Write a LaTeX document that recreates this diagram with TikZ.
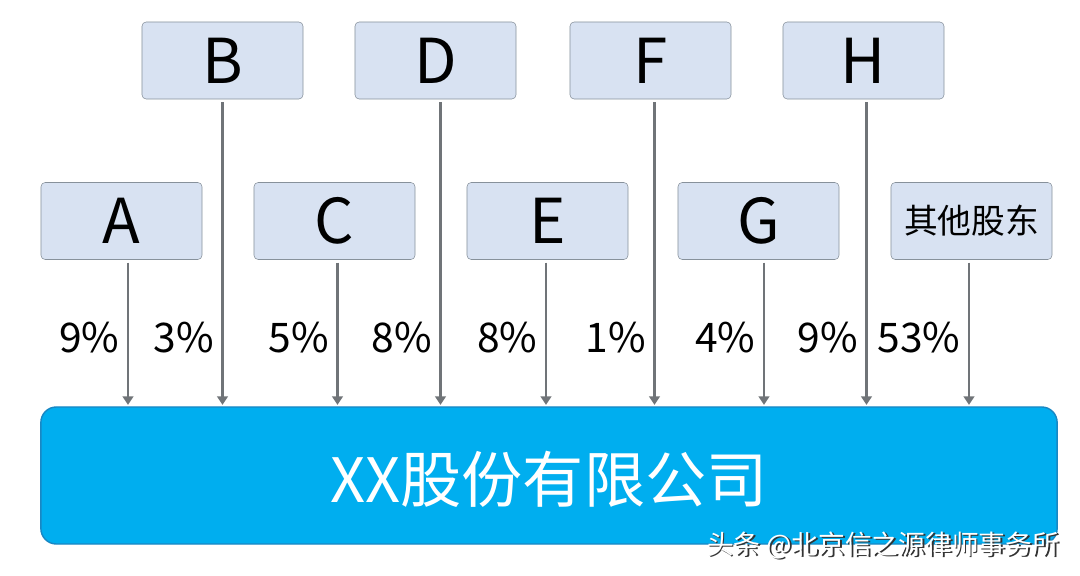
\documentclass[tikz,border=0pt]{standalone}
\usepackage{fontspec}
\setmainfont{Noto Sans CJK SC}
\usepackage{tikz}
\usetikzlibrary{arrows.meta}
\definecolor{boxfill}{RGB}{216,226,242}
\definecolor{boxline}{RGB}{135,145,155}
\definecolor{coFill}{RGB}{0,174,239}
\definecolor{coLine}{RGB}{25,135,195}
\definecolor{arrowgray}{RGB}{112,116,120}
\tikzstyle{holder} = [draw=boxline, fill=boxfill, rounded corners=3pt, minimum width=4.025cm, minimum height=1.925cm, inner sep=0pt, font=\fontsize{44}{44}\selectfont]
\tikzstyle{company} = [draw=coLine, line width=1pt, fill=coFill, rounded corners=11pt, minimum width=25.4cm, minimum height=3.425cm, text=white, font=\fontsize{43.5}{43.5}\selectfont]
\tikzstyle{pct} = [anchor=east, inner sep=0pt, font=\fontsize{29}{29}\selectfont]
\tikzstyle{share} = [draw=arrowgray, line width=2pt, -{Triangle[width=7.5pt,length=6pt]}, shorten <=2pt, shorten >=1pt]

\begin{document}
\begin{tikzpicture}[x=0.025cm, y=-0.025cm]
	\useasboundingbox (0,0) rectangle (1080,576);
	% shareholders
	\node[holder] (B) at (222.5,60.5) {B};
	\node[holder] (D) at (435.5,60.5) {D};
	\node[holder] (F) at (650.5,60.5) {F};
	\node[holder] (H) at (863.5,60.5) {H};
	\node[holder] (A) at (121.5,221) {A};
	\node[holder] (C) at (334.5,221) {C};
	\node[holder] (E) at (547.5,221) {E};
	\node[holder] (G) at (758.5,221) {G};
	\node[holder, font=\fontsize{24}{24}\selectfont] (O) at (971.5,221) {其他股东};
	% the company
	\node[company, text depth=0pt] (co) at (549,475.5) {\raisebox{-2pt}{XX股份有限公司}};
	\coordinate (lv) at (0,338);
	% holdings
	\foreach \n/\dx/\p in {A/6.5/9\%, B/0/3\%, C/3/5\%, D/5/8\%, E/-1.5/8\%, F/4/1\%, G/5.5/4\%, H/3/9\%, O/-2.5/53\%} {
		\draw[share] ([xshift=\dx*0.025cm]\n.south) -- ([xshift=\dx*0.025cm]\n.south |- co.north);
		\node[pct] at ([xshift=\dx*0.025cm-6pt]\n.south |- lv) {\p};
	}
	% watermark
	\node[anchor=east, text=black!80, font=\fontsize{19}{19}\selectfont] (wms) at (1065.8,546.8) {头条 @北京信之源律师事务所};
	\node[anchor=east, text=white, font=\fontsize{19}{19}\selectfont] (wm) at (1064,545) {头条 @北京信之源律师事务所};
\end{tikzpicture}
\end{document}
